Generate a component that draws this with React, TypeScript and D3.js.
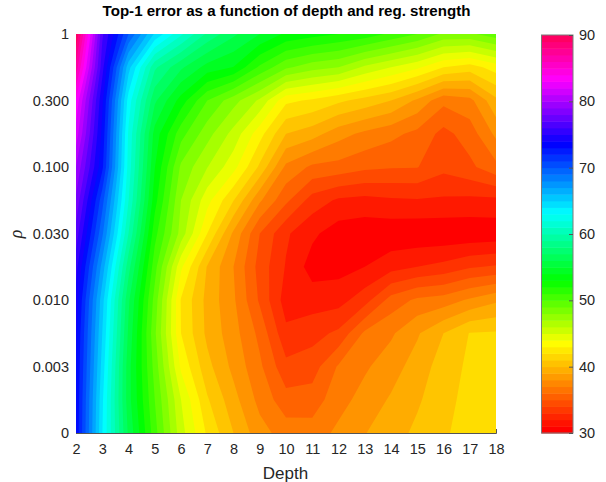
import React, { useEffect, useRef } from 'react';
import * as d3 from 'd3';

const depths = d3.range(2, 19);
const rhoLabels = ['1', '0.300', '0.100', '0.030', '0.010', '0.003', '0'];
const colorTicks = [30, 40, 50, 60, 70, 80, 90];

// top-1 error per depth (2..18), one row per half tick of rho, top row first
const rho1 = [90, 76.5, 70, 64.8, 61.5, 58.5, 56.5, 55, 53.5, 53, 52.5, 52, 51, 50, 48.5, 48.5, 49.5];
const rho055 = [87, 75.5, 65.5, 59, 56.5, 54.5, 53.7, 51, 49, 48, 47.5, 46, 45, 44, 42.5, 41.9, 43.1];
const rho03 = [83.5, 74, 63.2, 56.5, 53.2, 50, 48, 46, 42.8, 42.3, 41.5, 40.8, 40, 38.5, 36.6, 37.1, 39.7];
const rho017 = [82, 73.4, 62.3, 54.5, 50.5, 48, 45.8, 43, 40, 39.3, 38, 37.2, 36.6, 35.9, 34.6, 35.6, 37.8];
const rho01 = [80, 72.8, 62, 53.8, 48.5, 46.3, 44.2, 41, 37.2, 36, 35.8, 35.3, 35.1, 35.05, 34.1, 34.7, 35.9];
const rho055b = [78.5, 70.5, 61.3, 53, 47.5, 44.2, 41.3, 37.7, 35.3, 33.2, 32.3, 32.1, 32.3, 32.4, 32.3, 32.2, 32.2];
const rho003 = [77, 69, 60, 51.7, 47, 42.5, 38.5, 35, 32.7, 31.5, 30.6, 30.4, 30.4, 30.3, 30.3, 30.3, 30.4];
const rho017b = [75.5, 67, 58, 50.5, 44, 39.9, 37.5, 34.5, 32.4, 30.7, 30.8, 31.25, 32, 32.5, 32.9, 33.6, 33.9];
const rho001 = [74.5, 65.5, 56.5, 49.5, 42.4, 39.6, 37.7, 34.8, 31.9, 31.9, 32, 33.2, 35.5, 36.5, 36.8, 37.7, 38.5];
const rho0055 = [74, 65, 56, 49, 42.5, 39.7, 38, 35.9, 32.8, 33.3, 34, 36.5, 37.3, 38.6, 40, 41.3, 41.4];
const rho0003 = [73.8, 64.5, 55.5, 49.5, 43.5, 40.4, 38.4, 36.5, 34.1, 34.4, 36.4, 37.3, 38.2, 39.3, 40.6, 41.5, 41.6];
const rho0015 = [73.6, 64, 55.5, 50, 45, 41.4, 39.2, 37.1, 35.5, 35.6, 37, 38, 38.9, 39.8, 40.9, 41.6, 41.7];
const rho0 = [73.5, 63.8, 56, 50.5, 45.5, 42.3, 40, 38, 36.9, 36.8, 37.8, 38.7, 39.4, 40.3, 41.1, 41.7, 41.9];
const errorRows = [rho1, rho055, rho03, rho017, rho01, rho055b, rho003, rho017b, rho001, rho0055, rho0003, rho0015, rho0];

const WIDTH = 606;
const HEIGHT = 482;
const textColor = '#262626';
const font = '"Liberation Sans", Arial, sans-serif';

// value to hue
const hue = d3.scaleLinear()
  .domain([30.6, 43.6, 53, 63.2, 73.6, 83.3, 90])
  .range([0, 60, 120, 180, 240, 300, 340])
  .clamp(true);
const colorOf = (v: number) => d3.hsl(hue(v), 1, 0.5).formatRgb();

export default function App() {
  const ref = useRef<SVGSVGElement>(null);

  useEffect(() => {
    const svg = d3.select(ref.current);
    svg.selectAll('*').remove();

    const x = d3.scaleLinear().domain([2, 18]).range([76, 496]);
    const y = d3.scaleLinear().domain([0, rhoLabels.length - 1]).range([34, 433]);
    const c = d3.scaleLinear().domain([30, 90]).range([433, 35]);

    // axes sit under the field, like the original
    const xAxis = svg.append('g')
      .attr('transform', `translate(0,${y.range()[1]})`)
      .call(d3.axisBottom(x).tickValues(depths).tickFormat(d3.format('d')).tickSize(-4).tickPadding(11));
    const yAxis = svg.append('g')
      .attr('transform', `translate(${x.range()[0]},0)`)
      .call(d3.axisLeft(y).tickValues(d3.range(rhoLabels.length)).tickFormat((i: any) => rhoLabels[i]).tickSize(-4).tickPadding(7));

    // filled contours
    svg.append('clipPath').attr('id', 'field')
      .append('rect')
      .attr('x', x.range()[0]).attr('y', y.range()[0])
      .attr('width', x.range()[1] - x.range()[0])
      .attr('height', y.range()[1] - y.range()[0]);

    const field = svg.append('g').attr('clip-path', 'url(#field)');
    field.append('rect')
      .attr('x', x.range()[0]).attr('y', y.range()[0])
      .attr('width', x.range()[1] - x.range()[0])
      .attr('height', y.range()[1] - y.range()[0])
      .attr('fill', colorOf(30));

    const step = 1.25;
    const contours = d3.contours()
      .size([depths.length, errorRows.length])
      .thresholds(d3.range(30, 90, step))(errorRows.flat());
    // d3 puts grid values at i + 0.5
    const path = d3.geoPath(d3.geoTransform({
      point(px: number, py: number) {
        this.stream.point(x(2 + px - 0.5), y((py - 0.5) / 2));
      },
    }));
    field.selectAll('path')
      .data(contours)
      .enter().append('path')
      .attr('d', path as any)
      .attr('fill', (d: any) => colorOf(d.value + step / 2));

    // colorbar
    const bands = d3.range(30, 90);
    svg.append('g').selectAll('rect')
      .data(bands)
      .enter().append('rect')
      .attr('x', 541.5)
      .attr('width', 31.5)
      .attr('y', d => c(d + 1))
      .attr('height', d => c(d) - c(d + 1) + 0.5)
      .attr('fill', d => colorOf(d + 0.5));
    svg.append('rect')
      .attr('x', 541.5).attr('y', 35)
      .attr('width', 31.5).attr('height', 398)
      .attr('fill', 'none')
      .attr('stroke', '#7a7a7a')
      .attr('stroke-width', 1);
    const cAxis = svg.append('g')
      .attr('transform', 'translate(573,0)')
      .call(d3.axisRight(c).tickValues(colorTicks).tickFormat(d3.format('d')).tickSize(-4).tickPadding(6));

    [xAxis, yAxis, cAxis].forEach(g => {
      g.selectAll('.domain').attr('stroke', '#555').attr('stroke-width', 1);
      g.selectAll('line').attr('stroke', '#555');
      g.selectAll('text')
        .attr('fill', textColor)
        .style('font-family', font)
        .style('font-size', '14.5px');
    });
    cAxis.select('.domain').remove();

    svg.append('text')
      .attr('x', 286.5).attr('y', 16)
      .attr('text-anchor', 'middle')
      .style('font-family', font)
      .style('font-size', '15.1px')
      .style('font-weight', 'bold')
      .attr('fill', '#000')
      .text('Top-1 error as a function of depth and reg. strength');

    svg.append('text')
      .attr('x', 285.5).attr('y', 479)
      .attr('text-anchor', 'middle')
      .style('font-family', font)
      .style('font-size', '17px')
      .attr('fill', textColor)
      .text('Depth');

    svg.append('text')
      .attr('transform', 'translate(22,234) rotate(-90)')
      .attr('text-anchor', 'middle')
      .style('font-family', '"Liberation Serif", serif')
      .style('font-size', '18px')
      .style('font-style', 'italic')
      .attr('fill', textColor)
      .text('ρ');
  }, []);

  return (
    <svg
      ref={ref}
      width={WIDTH}
      height={HEIGHT}
      style={{ position: 'absolute', left: 0, top: 0, background: '#fff' }}
    />
  );
}
